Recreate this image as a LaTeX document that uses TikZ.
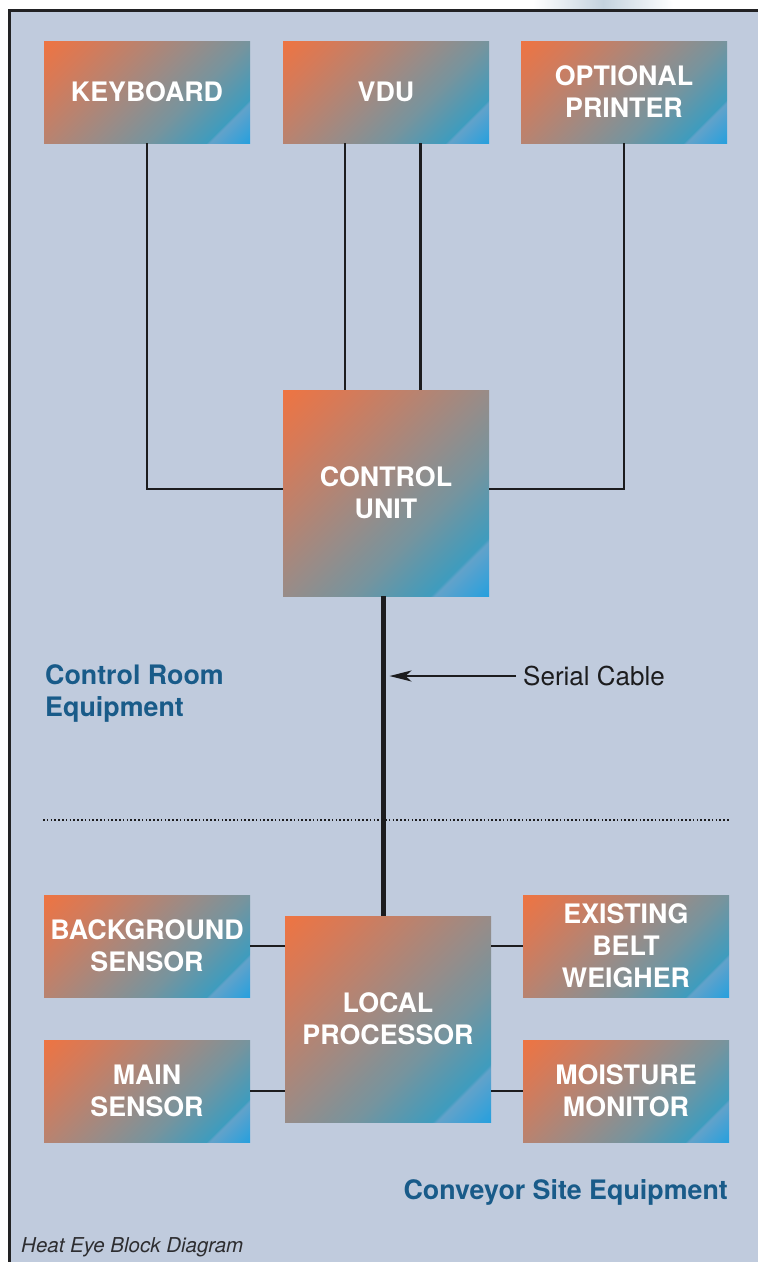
\documentclass[tikz,border=0pt]{standalone}
\usepackage{fontspec}
\setmainfont{TeX Gyre Heros}
\usetikzlibrary{arrows.meta}
\definecolor{bgc}{RGB}{192,203,221}
\definecolor{framec}{RGB}{34,34,36}
\definecolor{linec}{RGB}{28,28,30}
\definecolor{titleblue}{RGB}{25,91,137}
\definecolor{capgray}{RGB}{45,45,48}
\definecolor{blobc}{RGB}{196,210,222}
\definecolor{hO}{RGB}{238,116,66}
\definecolor{hA}{RGB}{214,122,88}
\definecolor{hB}{RGB}{184,131,112}
\definecolor{hC}{RGB}{152,140,136}
\definecolor{hD}{RGB}{118,148,158}
\definecolor{hE}{RGB}{62,156,190}
\definecolor{hF}{RGB}{98,162,202}
\definecolor{hG}{RGB}{38,160,222}
\pgfdeclarehorizontalshading{heat}{100bp}{color(0bp)=(hO); color(32.3bp)=(hO); color(38bp)=(hA); color(44bp)=(hB); color(50bp)=(hC); color(56bp)=(hD); color(62.7bp)=(hE); color(63.1bp)=(hF); color(67.7bp)=(hG); color(100bp)=(hG)}
\newcommand\hbfont{\bfseries\fontsize{26.8}{32}\selectfont}
\tikzset{
  box/.style={draw=none, inner sep=0pt, align=center, text=white, font=\hbfont, minimum width=206pt},
  widebox/.style={box, minimum height=102pt,
    path picture={\shade[shading=heat, shading angle=-45] ([shift={(-154pt,-154pt)}]path picture bounding box.center) rectangle ++(308pt,308pt);}},
  squarebox/.style={box, minimum height=206pt,
    path picture={\shade[shading=heat, shading angle=-45] ([shift={(-206pt,-206pt)}]path picture bounding box.center) rectangle ++(412pt,412pt);}},
  wire/.style={draw=linec, line width=2.3pt},
  cable/.style={draw=linec, line width=5pt},
  grouplabel/.style={inner sep=0pt, text=titleblue, font=\hbfont, align=left},
}
\begin{document}
\begin{tikzpicture}[x=1pt, y=-1pt]
\fill[white] (0,0) rectangle (758,1262);
\useasboundingbox (0,0) rectangle (758,1262);
% faint blob above frame
\shade[left color=white, right color=white, middle color=blobc, rounded corners=6pt] (533,0) rectangle (673,11);
% frame
\fill[bgc] (9.5,10.5) rectangle (764,1268);
\draw[framec, line width=2.6pt] (9.5,1268) -- (9.5,10.5) -- (764,10.5);

% boxes
\node[widebox] (kb) at (147,92) {KEYBOARD};
\node[widebox] (vdu) at (386,92) {VDU};
\node[widebox] (pr) at (624,92) {OPTIONAL\\PRINTER};
\node[squarebox] (cu) at (386,493) {CONTROL\\UNIT};
\node[widebox] (bg) at (147,946) {BACKGROUND\\SENSOR};
\node[squarebox] (lp) at (388,1019) {LOCAL\\PROCESSOR};
\node[widebox] (ebw) at (626,946) {EXISTING\\BELT\\WEIGHER};
\node[widebox] (ms) at (147,1091) {MAIN\\SENSOR};
\node[widebox] (mm) at (626,1091) {MOISTURE\\MONITOR};

% control room wiring
\draw[wire] (kb.south) |- ([yshift=4pt]cu.west);
\draw[wire] ([xshift=-41pt]vdu.south) -- ([xshift=-41pt]cu.north);
\draw[wire] ([xshift=34.5pt]vdu.south) -- ([xshift=34.5pt]cu.north);
\draw[wire] (pr.south) |- ([yshift=4pt]cu.east);

% serial cable
\draw[cable] ([xshift=-3pt]cu.south) -- ([xshift=-3pt]cu.south |- lp.north);
\node[inner sep=0pt, anchor=base west, font=\fontsize{26}{32}\selectfont, text=linec] (sc) at (523,685) {Serial Cable};
\coordinate (sctip) at (389.5,676);
\draw[draw=linec, line width=2pt, -{Stealth[length=22pt, width=11pt, inset=6pt]}] ([xshift=-7pt, yshift=9pt]sc.base west) -- (sctip);

% group labels
\node[grouplabel, anchor=north west] (crl) at (45,664) {Control Room\\Equipment};
\coordinate (dl) at (43,820);
\coordinate (dr) at (729,820);
\draw[linec, line width=2pt, dash pattern=on 1.6pt off 2.2pt] (dl) -- (dr);

% conveyor site wiring
\draw[wire] (bg.east) -- (bg.east -| lp.west);
\draw[wire] (ebw.west) -- (ebw.west -| lp.east);
\draw[wire] (ms.east) -- (ms.east -| lp.west);
\draw[wire] (mm.west) -- (mm.west -| lp.east);

\node[inner sep=0pt, anchor=base east, text=titleblue, font=\hbfont] (csl) at (728,1199) {Conveyor Site Equipment};
\node[inner sep=0pt, anchor=base west, text=capgray, font=\itshape\fontsize{20.5}{24}\selectfont] (cap) at (21,1252) {Heat Eye Block Diagram};
\end{tikzpicture}
\end{document}
